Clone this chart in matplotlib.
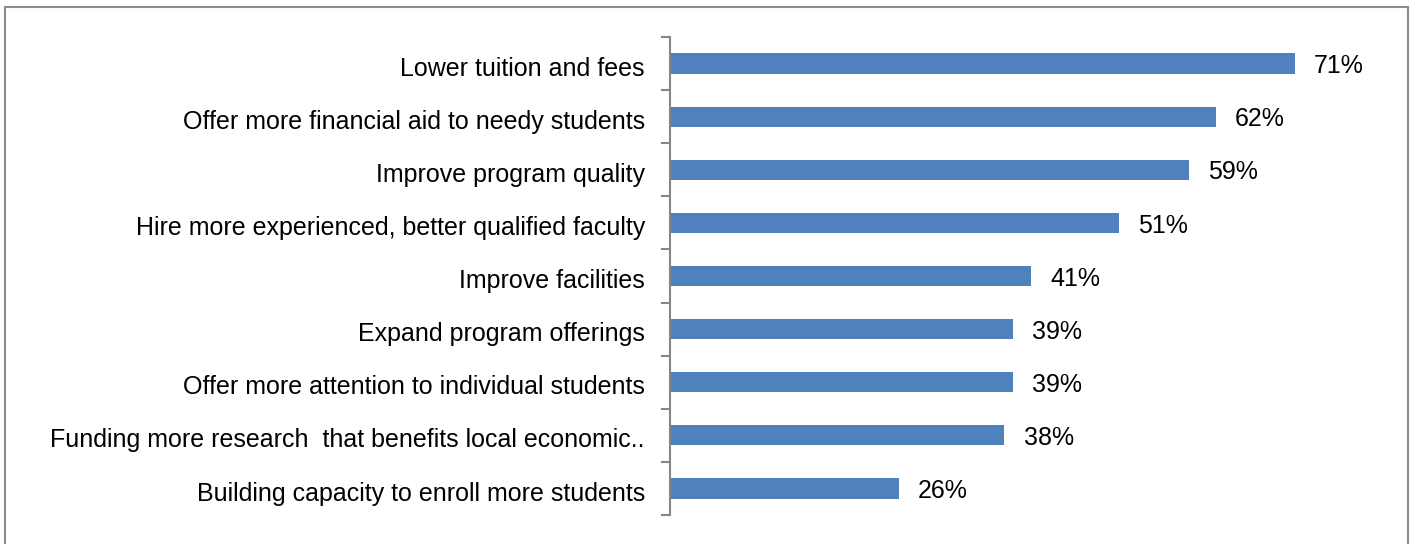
import numpy as np
import matplotlib
matplotlib.use('Agg')
import matplotlib.pyplot as plt
from matplotlib.patches import Rectangle

categories = [
  'Lower tuition and fees',
  'Offer more financial aid to needy students',
  'Improve program quality',
  'Hire more experienced, better qualified faculty',
  'Improve facilities',
  'Expand program offerings',
  'Offer more attention to individual students',
  'Funding more research  that benefits local economic..',
  'Building capacity to enroll more students',
]
values = [0.71, 0.62, 0.59, 0.51, 0.41, 0.39, 0.39, 0.38, 0.26]
labels = ['71%', '62%', '59%', '51%', '41%', '39%', '39%', '38%', '26%']

plt.rcParams['font.family'] = ['Liberation Sans', 'DejaVu Sans']
fs = 18

fig = plt.figure(figsize=(14.12, 5.44), dpi=100)
ax = fig.add_axes([0.4745, 0.0533, 0.4985, 0.8787])

y = np.arange(len(categories))
ax.barh(y, values, height=0.38, color='#4f81bd')
for yi, v, lab in zip(y, values, labels):
  ax.text(v + 0.022, yi + 0.05, lab, va='center', ha='left', fontsize=fs, color='black')

ax.set_ylim(len(categories) - 0.5, -0.5)
ax.set_xlim(0, 0.8)
ax.set_yticks(y + 0.05)
ax.set_yticklabels(categories, fontsize=fs)
ax.set_yticks(np.arange(len(categories) + 1) - 0.5, minor=True)
ax.tick_params(axis='y', which='major', length=0, pad=18)
ax.tick_params(axis='y', which='minor', length=6.5, width=1.5, color='#868686')
ax.set_xticks([])
for s in ['top', 'right', 'bottom']:
  ax.spines[s].set_visible(False)
ax.spines['left'].set_color('#868686')
ax.spines['left'].set_linewidth(1.5)

# outer chart border
fig.patches.append(Rectangle((5 / 1412, -0.01), 1403 / 1412, 1 - 7 / 544 + 0.01,
  transform=fig.transFigure, fill=False, edgecolor='#8c8c8c', linewidth=1.5))

fig.savefig('out.png', dpi=100)
